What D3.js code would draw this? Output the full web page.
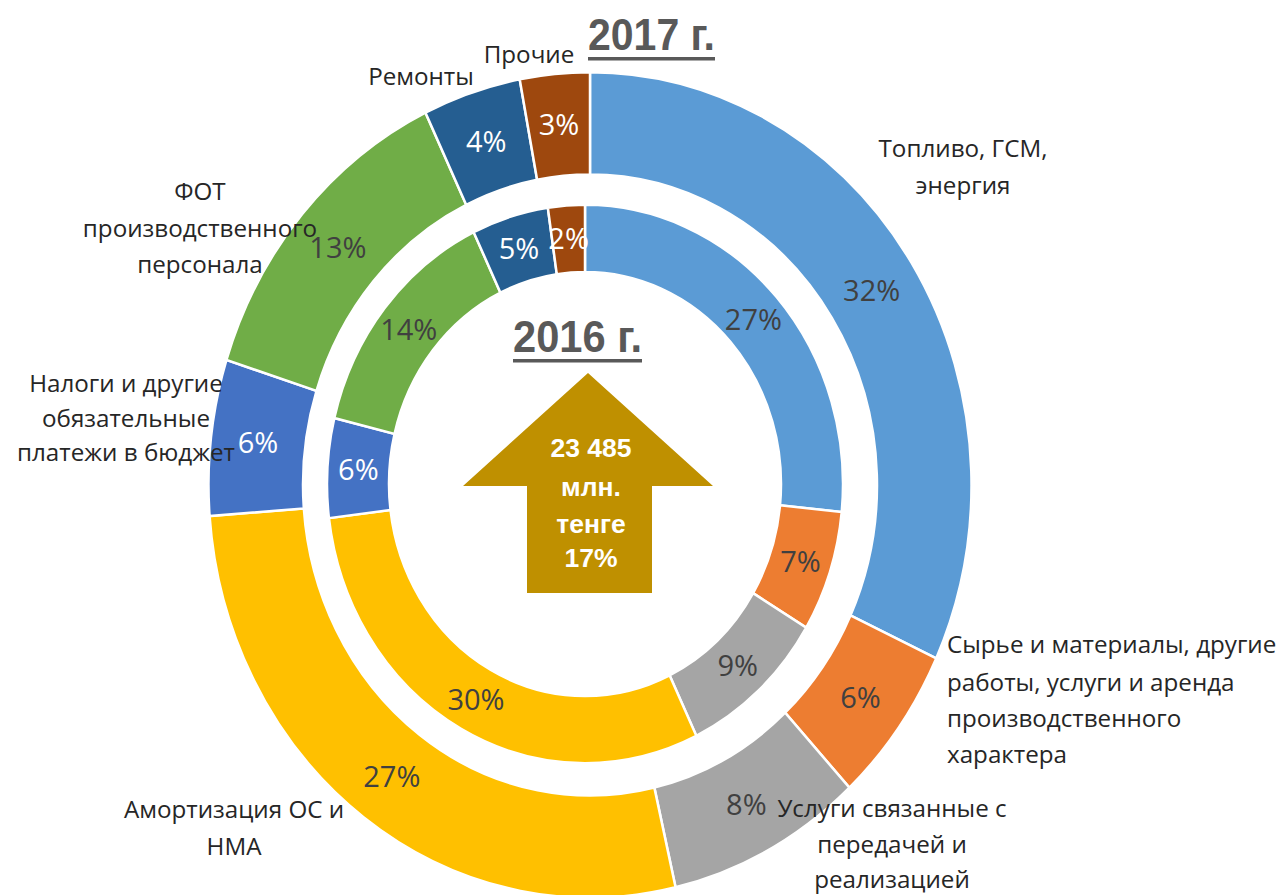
<!DOCTYPE html>
<html>
<head>
<meta charset="utf-8">
<script src="https://cdn.jsdelivr.net/npm/d3@7"></script>
<style>
  html, body { margin: 0; padding: 0; background: #fff; }
  svg { display: block; }
</style>
</head>
<body>
<svg id="chart" width="1286" height="895"></svg>
<script>
// ---- data ----
const categories = [
  "Топливо, ГСМ, энергия",
  "Сырье и материалы, другие работы, услуги и аренда производственного характера",
  "Услуги связанные с передачей и реализацией",
  "Амортизация ОС и НМА",
  "Налоги и другие обязательные платежи в бюджет",
  "ФОТ производственного персонала",
  "Ремонты",
  "Прочие"
];
const values2016 = [26.6, 7.0, 9.3, 30.15, 5.75, 14.1, 4.8, 2.3];
const values2017 = [31.9, 6.2, 8.3, 27.4, 6.1, 13.0, 4.15, 2.95];
const colors = ["#5B9BD5", "#ED7D31", "#A5A5A5", "#FFC000", "#4472C4", "#70AD47", "#255E91", "#9E480E"];
const whiteLabel = [false, false, false, false, true, false, true, true];
const title2017 = "2017 г.";
const title2016 = "2016 г.";
const arrowText = ["23 485", "млн.", "тенге", "17%"];

// ---- layout (positions / sizes) ----
const labelLayout = [
  { lines: ["Топливо, ГСМ,", "энергия"], x: 963, ys: [157, 194], anchor: "middle" },
  { lines: ["Сырье и материалы, другие", "работы, услуги и аренда", "производственного", "характера"], x: 947, ys: [653, 691, 727, 763], anchor: "start" },
  { lines: ["Услуги связанные с", "передачей и", "реализацией"], x: 892, ys: [817, 853, 888], anchor: "middle" },
  { lines: ["Амортизация ОС и", "НМА"], x: 234, ys: [818, 855], anchor: "middle" },
  { lines: ["Налоги и другие", "обязательные", "платежи в бюджет"], x: 126, ys: [392, 427, 461], anchor: "middle" },
  { lines: ["ФОТ", "производственного", "персонала"], x: 200, ys: [200, 237, 273], anchor: "middle" },
  { lines: ["Ремонты"], x: 421, ys: [85], anchor: "middle" },
  { lines: ["Прочие"], x: 529, ys: [63], anchor: "middle" }
];
const yStretch = 1.082;
const outerRing = { cx: 590, cy: 485, r0: 287, r1: 381.5 };
const innerRing = { cx: 585, cy: 484, r0: 196, r1: 258 };

const svg = d3.select("#chart");
const pie = d3.pie().sort(null).value(d => d);
const fmt = v => Math.round(v) + "%";

function drawRing(values, ring) {
  const total = d3.sum(values);
  const arcs = pie(values);
  const arc = d3.arc().innerRadius(ring.r0).outerRadius(ring.r1);
  const g = svg.append("g")
    .attr("transform", `translate(${ring.cx},${ring.cy}) scale(1,${yStretch})`);
  g.selectAll("path").data(arcs).join("path")
    .attr("d", arc)
    .attr("fill", (d, i) => colors[i])
    .attr("stroke", "#fff")
    .attr("stroke-width", 2.5)
    .attr("vector-effect", "non-scaling-stroke");
  svg.append("g").selectAll("text").data(arcs).join("text")
    .attr("x", d => ring.cx + arc.centroid(d)[0])
    .attr("y", d => ring.cy + arc.centroid(d)[1] * yStretch)
    .attr("dy", "0.36em")
    .attr("text-anchor", "middle")
    .attr("font-family", "'Open Sans', sans-serif")
    .attr("font-size", 29)
    .attr("fill", (d, i) => whiteLabel[i] ? "#ffffff" : "#404040")
    .text(d => fmt(d.data / total * 100));
}

drawRing(values2017, outerRing);
drawRing(values2016, innerRing);

// category labels
labelLayout.forEach((L, i) => {
  L.lines.forEach((line, j) => {
    svg.append("text")
      .attr("x", L.x).attr("y", L.ys[j])
      .attr("text-anchor", L.anchor)
      .attr("font-family", "'Open Sans', sans-serif")
      .attr("font-size", 24.2)
      .attr("fill", "#262626")
      .text(line);
  });
});

// titles
function title(txt, x, y, w) {
  svg.append("text")
    .attr("x", x).attr("y", y)
    .attr("font-family", "'Liberation Sans', Arial, sans-serif")
    .attr("font-weight", "bold")
    .attr("font-size", 44)
    .attr("fill", "#595959")
    .attr("textLength", w)
    .attr("lengthAdjust", "spacingAndGlyphs")
    .text(txt);
  svg.append("rect")
    .attr("x", x).attr("y", y + 7)
    .attr("width", w).attr("height", 3.5)
    .attr("fill", "#595959");
}
title(title2017, 588, 50, 127);
title(title2016, 513, 352, 129);

// arrow
const arrow = { tipX: 588, tipY: 373, headY: 486, headL: 463, headR: 713, shaftL: 527, shaftR: 652, bottom: 593 };
svg.append("path")
  .attr("d", d3.line()([
    [arrow.tipX, arrow.tipY], [arrow.headR, arrow.headY], [arrow.shaftR, arrow.headY],
    [arrow.shaftR, arrow.bottom], [arrow.shaftL, arrow.bottom], [arrow.shaftL, arrow.headY],
    [arrow.headL, arrow.headY]
  ]) + "Z")
  .attr("fill", "#BF9000");
const arrowYs = [457, 496, 533, 567];
arrowText.forEach((t, i) => {
  svg.append("text")
    .attr("x", 591).attr("y", arrowYs[i])
    .attr("text-anchor", "middle")
    .attr("font-family", "'Liberation Sans', Arial, sans-serif")
    .attr("font-weight", "bold")
    .attr("font-size", 26.5)
    .attr("fill", "#ffffff")
    .text(t);
});
</script>
</body>
</html>
